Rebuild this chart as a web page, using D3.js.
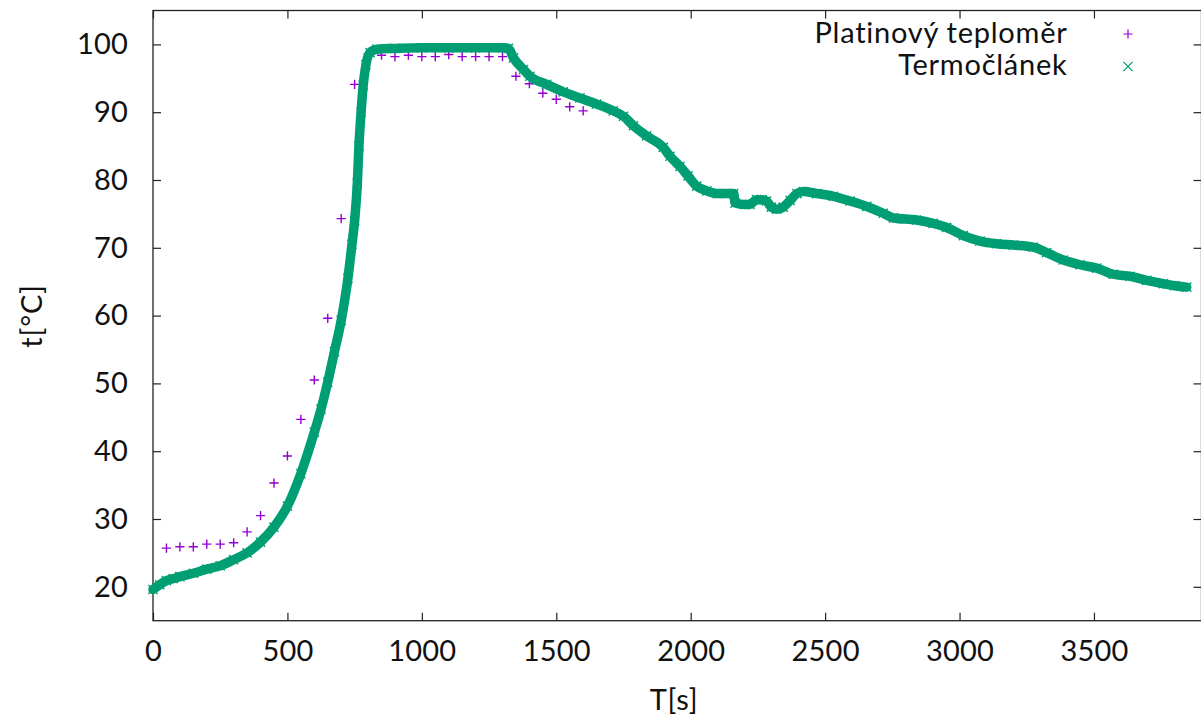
<!DOCTYPE html>
<html>
<head>
<meta charset="utf-8">
<script src="https://cdn.jsdelivr.net/npm/d3@7"></script>
<style>
  html, body { margin: 0; padding: 0; background: #fff; }
  svg { display: block; }
  text { font-family: Lato, "DejaVu Sans", sans-serif; fill: #111; }
</style>
</head>
<body>
<svg id="chart" width="1201" height="719"></svg>
<script>
// Platinum resistance thermometer, sampled every 50 s
const ptTime = [50, 100, 150, 200, 250, 300, 350, 400, 450, 500, 550, 600, 650, 700, 750, 800,
  850, 900, 950, 1000, 1050, 1100, 1150, 1200, 1250, 1300, 1350, 1400, 1450, 1500, 1550, 1600];
const ptTemp = [25.7, 25.9, 25.9, 26.3, 26.3, 26.5, 28.1, 30.5, 35.3, 39.3, 44.7, 50.5, 59.6, 74.3, 94.1, 98.6,
  98.4, 98.2, 98.4, 98.2, 98.2, 98.5, 98.2, 98.2, 98.2, 98.2, 95.3, 94.2, 92.8, 91.9, 90.8, 90.2];

// Thermocouple readings
const tcTime = [0, 25, 50, 75, 100, 150, 200, 250, 300, 350, 400, 450, 500, 550, 600, 625, 650, 675, 700,
  725, 740, 750, 760, 766, 774, 782, 792, 807, 833, 900, 1000, 1100, 1200, 1300, 1322, 1341, 1378, 1402,
  1464, 1526, 1588, 1650, 1712, 1750, 1787, 1836, 1898, 1923, 1960, 1990, 2022, 2060, 2100, 2160, 2165,
  2200, 2220, 2245, 2265, 2282, 2300, 2320, 2344, 2370, 2395, 2420, 2469, 2531, 2593, 2655, 2716, 2754,
  2840, 2902, 2952, 3014, 3076, 3138, 3200, 3274, 3324, 3386, 3448, 3510, 3572, 3634, 3696, 3758, 3800, 3845];
const tcTemp = [19.6, 20.3, 20.9, 21.2, 21.5, 22.0, 22.6, 23.1, 24.0, 25.0, 26.6, 28.8, 31.9, 36.7, 42.8, 46.2, 50.2, 54.7, 59.3,
  65.5, 70.5, 74.0, 79.5, 85.0, 90.0, 94.0, 97.0, 98.8, 99.3, 99.4, 99.5, 99.5, 99.5, 99.5, 99.4, 98.0, 96.3, 95.3,
  94.1, 93.0, 92.1, 91.2, 90.2, 89.4, 88.0, 86.5, 84.8, 83.5, 82.0, 80.6, 79.1, 78.4, 78.0, 78.0, 76.6,
  76.4, 76.4, 77.1, 77.1, 76.9, 76.0, 75.7, 76.0, 77.0, 78.0, 78.3, 78.0, 77.6, 76.9, 76.1, 75.1, 74.4,
  74.1, 73.6, 73.0, 71.8, 71.0, 70.6, 70.4, 70.1, 69.3, 68.2, 67.5, 67.0, 66.1, 65.8, 65.2, 64.7, 64.4, 64.2];

const xTicks = [0, 500, 1000, 1500, 2000, 2500, 3000, 3500];
const yTicks = [20, 30, 40, 50, 60, 70, 80, 90, 100];
const seriesNames = ["Platinový teploměr", "Termočlánek"];
const seriesColors = ["#9400d3", "#009e73"];

const svg = d3.select("#chart");
const plotLeft = 153, plotRight = 1201.5, plotTop = 10.5, plotBottom = 620.7;
const x = d3.scaleLinear().domain([0, 3900]).range([plotLeft, plotRight]);
const y = d3.scaleLinear().domain([15, 105]).range([plotBottom, plotTop]);

const fontSize = 29;
const wordSpacing = "0.75px";

// Axes with inward ticks, mirrored on top and right
svg.append("g").attr("transform", `translate(0,${plotBottom})`)
  .call(d3.axisBottom(x).tickValues(xTicks).tickSize(-8).tickPadding(20).tickFormat(d3.format("d")));
svg.append("g").attr("transform", `translate(${plotLeft},0)`)
  .call(d3.axisLeft(y).tickValues(yTicks).tickSize(-8).tickPadding(25).tickFormat(d3.format("d")));
svg.append("g").attr("transform", `translate(0,${plotTop})`)
  .call(d3.axisTop(x).tickValues(xTicks).tickSize(-8).tickFormat(""));
svg.append("g").attr("transform", `translate(${plotRight},0)`)
  .call(d3.axisRight(y).tickValues(yTicks).tickSize(-8).tickFormat(""));

svg.selectAll(".domain").remove();
svg.selectAll(".tick line").attr("stroke", "#222").attr("stroke-width", 1.2);
svg.selectAll(".tick text").attr("font-size", fontSize).attr("fill", "#111")
  .style("font-family", "Lato, sans-serif").style("letter-spacing", "0.2px");

// Plot frame
svg.append("rect")
  .attr("x", plotLeft).attr("y", plotTop)
  .attr("width", plotRight - plotLeft).attr("height", plotBottom - plotTop)
  .attr("fill", "none").attr("stroke", "#222").attr("stroke-width", 1.3);

// Axis titles
svg.append("text")
  .attr("x", 674).attr("y", 710)
  .attr("text-anchor", "middle").attr("font-size", fontSize)
  .style("letter-spacing", wordSpacing)
  .text("T[s]");
svg.append("text")
  .attr("transform", "translate(42,316) rotate(-90)")
  .attr("text-anchor", "middle").attr("font-size", fontSize)
  .style("letter-spacing", wordSpacing)
  .text("t[°C]");

// Marker shapes
const r = 4.6;
const plusPath = `M${-r},0H${r}M0,${-r}V${r}`;
const crossPath = `M${-r},${-r}L${r},${r}M${-r},${r}L${r},${-r}`;

const ptData = ptTime.map((t, i) => ({ t, v: ptTemp[i] }));
const tcData = tcTime.map((t, i) => ({ t, v: tcTemp[i] }));

const plot = svg.append("g");

// Platinum thermometer: plus markers
plot.selectAll("path.pt").data(ptData).join("path")
  .attr("class", "pt")
  .attr("transform", d => `translate(${x(d.t)},${y(d.v)})`)
  .attr("d", plusPath)
  .attr("stroke", seriesColors[0]).attr("stroke-width", 1.4).attr("fill", "none");

// Thermocouple: dense cross markers forming a thick trace
const line = d3.line().x(d => x(d.t)).y(d => y(d.v)).curve(d3.curveMonotoneX);
plot.append("path")
  .datum(tcData)
  .attr("d", line)
  .attr("fill", "none")
  .attr("stroke", seriesColors[1])
  .attr("stroke-width", 9.5)
  .attr("stroke-linejoin", "round")
  .attr("stroke-linecap", "round");
plot.selectAll("path.tc").data(tcData).join("path")
  .attr("class", "tc")
  .attr("transform", d => `translate(${x(d.t)},${y(d.v)})`)
  .attr("d", crossPath)
  .attr("stroke", seriesColors[1]).attr("stroke-width", 1.4).attr("fill", "none");

// Legend
const legend = svg.append("g");
const legendRows = [
  { name: seriesNames[0], color: seriesColors[0], shape: plusPath, baseline: 42.7 },
  { name: seriesNames[1], color: seriesColors[1], shape: crossPath, baseline: 75.2 }
];
legendRows.forEach(row => {
  legend.append("text")
    .attr("x", 1067.5).attr("y", row.baseline)
    .attr("text-anchor", "end").attr("font-size", fontSize)
    .style("letter-spacing", wordSpacing)
    .text(row.name);
  legend.append("path")
    .attr("transform", `translate(1128,${row.baseline - 8.7})`)
    .attr("d", row.shape)
    .attr("stroke", row.color).attr("stroke-width", 1.2).attr("fill", "none");
});
</script>
</body>
</html>
